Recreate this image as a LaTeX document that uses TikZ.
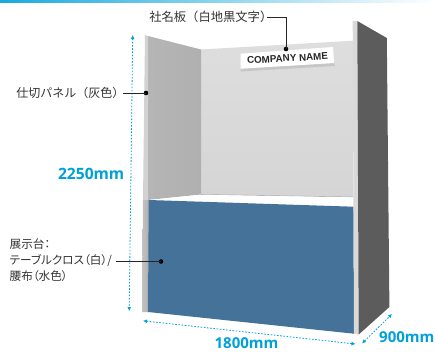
\documentclass[tikz,border=0pt]{standalone}
\usepackage{fontspec}
\setmainfont{Noto Sans CJK JP}
\newfontfamily\paltfont[RawFeature={+palt}]{Noto Sans CJK JP}
\newfontfamily\dimfont{Open Sans}
\newfontfamily\platefont{Liberation Sans}
\usetikzlibrary{arrows.meta}
\definecolor{dimblue}{HTML}{00A0D9}
\definecolor{clothblue}{HTML}{457299}
\definecolor{labelgray}{HTML}{333333}
\tikzset{
  x=1pt,y=-1pt,
  lab/.style={inner sep=0pt,text=labelgray,font=\fontsize{12.3}{16}\selectfont,align=left},
  smalllab/.style={inner sep=0pt,text=labelgray,font=\paltfont\fontsize{11.6}{16}\selectfont,align=left},
  dimlab/.style={inner sep=0pt,text=dimblue,font=\dimfont\bfseries\fontsize{15}{15}\selectfont},
  dimline/.style={dimblue,line width=0.8pt,dash pattern=on 1.6pt off 1.6pt,{Latex[length=4pt,width=4pt]}-{Latex[length=4pt,width=4pt]}},
  leader/.style={black!85,line width=0.8pt},
  pin/.style={circle,fill=black,inner sep=0pt,minimum size=4.6pt},
}
\begin{document}
\begin{tikzpicture}
\useasboundingbox (0,0) rectangle (435,351);
\clip (0,0) rectangle (435,351);
\fill[white] (0,0) rectangle (435,351);
\shade[left color=dimblue!90,right color=white] (0,0) rectangle (435,2);
% back wall
\shade[top color=gray!26,bottom color=gray!33] (201,49.5) -- (353,40.7) -- (353,197) -- (201,194.5) -- cycle;
\draw[gray!65,line width=0.6pt] (201,194.5) -- (353,197);
% left panel
\shade[left color=gray!58,right color=gray!62] (148,36) -- (201,49.5) -- (201,194.5) -- (148,200) -- cycle;
\shade[left color=gray!48,right color=gray!62] (143,200) -- (149,200) -- (148,312) -- (142,312) -- cycle;
\fill[gray!62] (148,200) -- (149,200) -- (148.5,312) -- (147,312) -- cycle;
\fill[gray!35] (145,35) -- (148,36) -- (148,200) -- (143,200) -- cycle;
% table top
\fill[white] (148.7,200) -- (200,194.8) -- (353,197.4) -- (353.5,206.7) -- cycle;
% table front
\fill[clothblue] (148.7,200) -- (353.5,206.7) -- (354,333.7) -- (148,312) -- cycle;
% right panel
\fill[gray!30] (352.7,20.7) -- (357.3,21) -- (358.7,334.5) -- (354,333.7) -- cycle;
\fill[black!64] (357.3,21) -- (386.8,38) -- (389.4,307) -- (358.7,334.5) -- cycle;
% name plate
\fill[gray!45] (240.5,68.7) -- (334,63) -- (335,66) -- (240.5,71.5) -- cycle;
\fill[white] (240.5,53.7) -- (333,47) -- (334,63) -- (240.5,68.7) -- cycle;
\node[rotate=3.3,inner sep=0pt,font=\platefont\bfseries\fontsize{9.8}{11}\selectfont,text=black!85] (plate) at (287.5,58.3) {COMPANY NAME};
% dimensions
\coordinate (hA) at (132.7,35); \coordinate (hB) at (129.2,311);
\coordinate (wA) at (143,320.8); \coordinate (wB) at (355.5,344);
\coordinate (dA) at (362,343.5); \coordinate (dB) at (392,314);
\draw[dimline] (hA) -- (hB);
\draw[dimline] (wA) -- (wB);
\draw[dimline] (dA) -- (dB);
\node[dimlab,anchor=east,font=\dimfont\bfseries\fontsize{15.6}{15}\selectfont] (h) at (124.5,174) {2250mm};
\node[dimlab,anchor=center] (w) at (246.5,343.5) {1800mm};
\node[dimlab,anchor=west] (d) at (379,337.5) {900mm};
% labels and leaders
\node[lab,anchor=east] (sign) at (272.5,17) {社名板（白地黒文字）};
\node[lab,anchor=east,font=\fontsize{12}{16}\selectfont] (panel) at (124.5,93) {仕切パネル（灰色）};
\node[smalllab,anchor=west] (stand) at (9.5,260.5) {展示台：\\テーブルクロス（白）/\\腰布（水色）};
\coordinate (signout) at (267,17);
\node[pin] (signpin) at (286,49) {};
\node[pin] (panelpin) at (146,93) {};
\node[pin] (standpin) at (161,261.5) {};
\draw[leader] (signout) -- (signpin.center |- signout) -- (signpin.center);
\coordinate (panelout) at (123,93);
\draw[leader] (panelout) -- (panelpin.center);
\coordinate (standout) at (116,261.5);
\draw[leader] (standout) -- (standpin.center);
\end{tikzpicture}
\end{document}
